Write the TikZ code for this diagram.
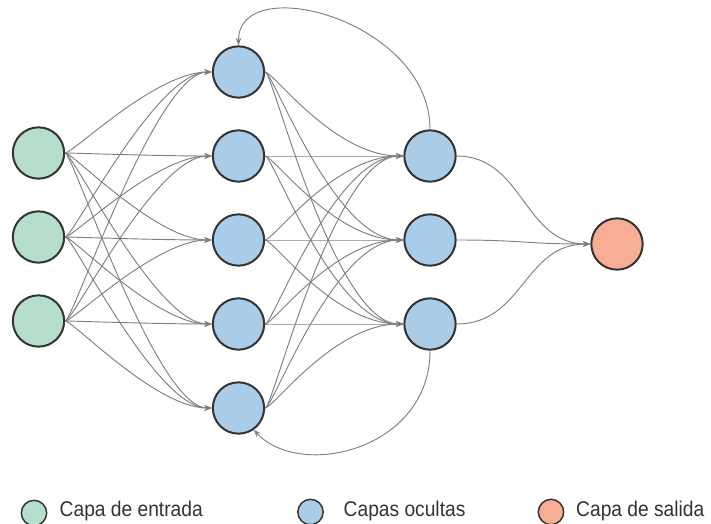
\documentclass[tikz,border=0pt]{standalone}
\usepackage{fontspec}
\setmainfont{Liberation Sans}
\usetikzlibrary{arrows.meta}
\definecolor{inC}{HTML}{B5DFCC}
\definecolor{hidC}{HTML}{A9CCE8}
\definecolor{outC}{HTML}{F7AE95}
\definecolor{bordC}{HTML}{333333}
\definecolor{edgeC}{HTML}{7F7F7F}
\definecolor{textC}{HTML}{333333}
\begin{document}
\begin{tikzpicture}[x=0.75pt,y=-0.75pt,
  neuron/.style={circle,draw=bordC,line width=1.5pt,minimum size=38.5pt,inner sep=0pt},
  innode/.style={neuron,fill=inC},
  hidnode/.style={neuron,fill=hidC},
  outnode/.style={neuron,fill=outC},
  edge/.style={draw=edgeC,line width=0.7pt,-{Stealth[length=5.5pt,width=4.2pt]}},
  layerone/.style={edge,out=0,in=180,out distance=6pt,in distance=42pt},
  layertwo/.style={edge,out=0,in=180,out distance=6pt,in distance=52pt},
  layerthree/.style={edge,out=0,in=180,out distance=50pt,in distance=50pt},
  legc/.style={circle,draw=bordC,line width=1.1pt,minimum size=19pt,inner sep=0pt},
  legt/.style={anchor=base west,text=textC,font=\fontsize{16}{19}\selectfont,inner sep=0pt,xscale=0.9}]
\useasboundingbox (0,0) rectangle (711,524);
\clip (0,0) rectangle (711,524);

% input layer
\node[innode] (i1) at (38.5,153) {};
\node[innode] (i2) at (38.5,237) {};
\node[innode] (i3) at (38.5,321) {};
% hidden layer 1
\node[hidnode] (h1) at (238.5,72) {};
\node[hidnode] (h2) at (238.5,156) {};
\node[hidnode] (h3) at (238.5,240) {};
\node[hidnode] (h4) at (238.5,324) {};
\node[hidnode] (h5) at (238.5,408) {};
% hidden layer 2
\node[hidnode] (g1) at (430,156) {};
\node[hidnode] (g2) at (430,240) {};
\node[hidnode] (g3) at (430,324) {};
% output
\node[outnode] (o) at (617,244) {};

% connections
\foreach \a in {1,2,3}{
  \foreach \b in {1,...,5}{
    \draw[layerone] (i\a.east) to (h\b.west);
  }
}
\foreach \a in {1,...,5}{
  \foreach \b in {1,2,3}{
    \draw[layertwo] (h\a.east) to (g\b.west);
  }
}
\foreach \a in {1,2,3}{
  \draw[layerthree] (g\a.east) to (o.west);
}
% recurrent connections
\draw[edge] (g1.north) .. controls (430,20) and (238,-30) .. (h1.north);
\draw[edge] (g3.south) .. controls (430,450) and (300,480) .. (h5.-55);

% legend
\node[legc,fill=inC] (l1) at (34,513) {};
\node[legc,fill=hidC] (l2) at (310.5,512) {};
\node[legc,fill=outC] (l3) at (551,512) {};
\node[legt] (t1) at (59.5,516.5) {Capa de entrada};
\node[legt] (t2) at (343.5,516.5) {Capas ocultas};
\node[legt] (t3) at (576,516.5) {Capa de salida};
\end{tikzpicture}
\end{document}
